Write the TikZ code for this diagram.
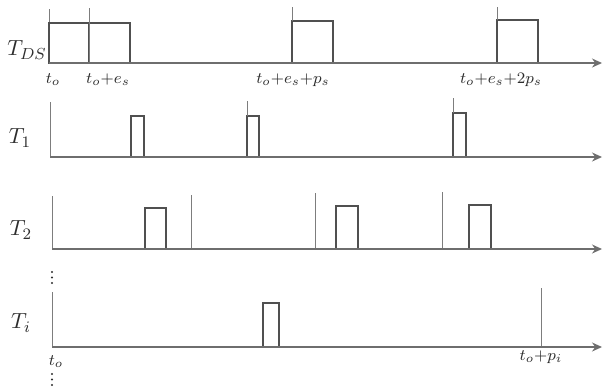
\documentclass[tikz,border=0pt]{standalone}
\usetikzlibrary{arrows.meta,positioning,calc}
\definecolor{boxgray}{RGB}{80,80,80}
\definecolor{axisgray}{RGB}{110,110,110}
\definecolor{relgray}{RGB}{125,125,125}
\definecolor{inkgray}{RGB}{45,45,45}

\begin{document}
\begin{tikzpicture}[x=0.5pt,y=-0.5pt,
  font=\fontsize{8.3}{10}\selectfont,
  job/.style={draw=boxgray,line width=1pt},
  axis/.style={-{Stealth[length=5pt,width=4.5pt]},draw=axisgray,
    line width=0.7pt},
  relline/.style={draw=relgray,line width=0.5pt},
  rowlbl/.style={font=\fontsize{11}{13}\selectfont,text=inkgray},
  tlbl/.style={text=inkgray,inner sep=1pt},
  vdot/.style={fill=inkgray}]
\useasboundingbox (0,0) rectangle (603,386);

% row T_DS
\node[rowlbl] (lDS) at (27,50) {$T_{DS}$};
\coordinate (oDS) at (49,63);
\coordinate (eDS) at (602,63);
\draw[relline] (49,9) -- (oDS);
\draw[job] (49,23) rectangle (89,63);
\draw[job] (89,23) rectangle (130,63);
\draw[relline] (89,8) -- (89,63);
\draw[job] (292,21) rectangle (333,63);
\draw[relline] (292,7) -- (292,21);
\draw[job] (497,20) rectangle (538,63);
\draw[relline] (497,7) -- (497,20);
\draw[axis] (oDS) -- (eDS);
\node[tlbl] (tDSa) at (53,80) {$t_o$};
\node[tlbl] (tDSb) at (108,80) {$t_o{+}e_s$};
\node[tlbl] (tDSc) at (293,80) {$t_o{+}e_s{+}p_s$};
\node[tlbl] (tDSd) at (501,80) {$t_o{+}e_s{+}2p_s$};

% row T_1
\node[rowlbl] (lone) at (20,138) {$T_1$};
\coordinate (oone) at (50,157);
\coordinate (eone) at (602,157);
\draw[relline] (50,102) -- (oone);
\draw[job] (131,116) rectangle (144,157);
\draw[job] (247,116) rectangle (259,157);
\draw[relline] (247,101) -- (247,116);
\draw[job] (453,113) rectangle (466,157);
\draw[relline] (453,98) -- (453,113);
\draw[axis] (oone) -- (eone);

% row T_2
\node[rowlbl] (ltwo) at (21,230) {$T_2$};
\coordinate (otwo) at (52,249);
\coordinate (etwo) at (602,249);
\draw[relline] (52,196) -- (otwo);
\draw[job] (145,208) rectangle (166,249);
\draw[relline] (191,195) -- (191,249);
\draw[relline] (315,193) -- (315,249);
\draw[job] (336,206) rectangle (358,249);
\draw[relline] (442,192) -- (442,249);
\draw[job] (469,205) rectangle (491,249);
\draw[axis] (otwo) -- (etwo);

% vertical dots
\fill[vdot] (52,272) circle (1.1) (52,277.5) circle (1.1) (52,283) circle (1.1);

% row T_i
\node[rowlbl] (li) at (21,323) {$T_i$};
\coordinate (oi) at (52,347);
\coordinate (ei) at (602,347);
\draw[relline] (52,292) -- (oi);
\draw[job] (263,303) rectangle (279,347);
\draw[relline] (541,288) -- (541,347);
\draw[axis] (oi) -- (ei);
\node[tlbl] (tia) at (56,362) {$t_o$};
\node[tlbl] (tib) at (541,357) {$t_o{+}p_i$};

\fill[vdot] (52,374) circle (1.1) (52,379.5) circle (1.1) (52,385) circle (1.1);
\end{tikzpicture}
\end{document}
